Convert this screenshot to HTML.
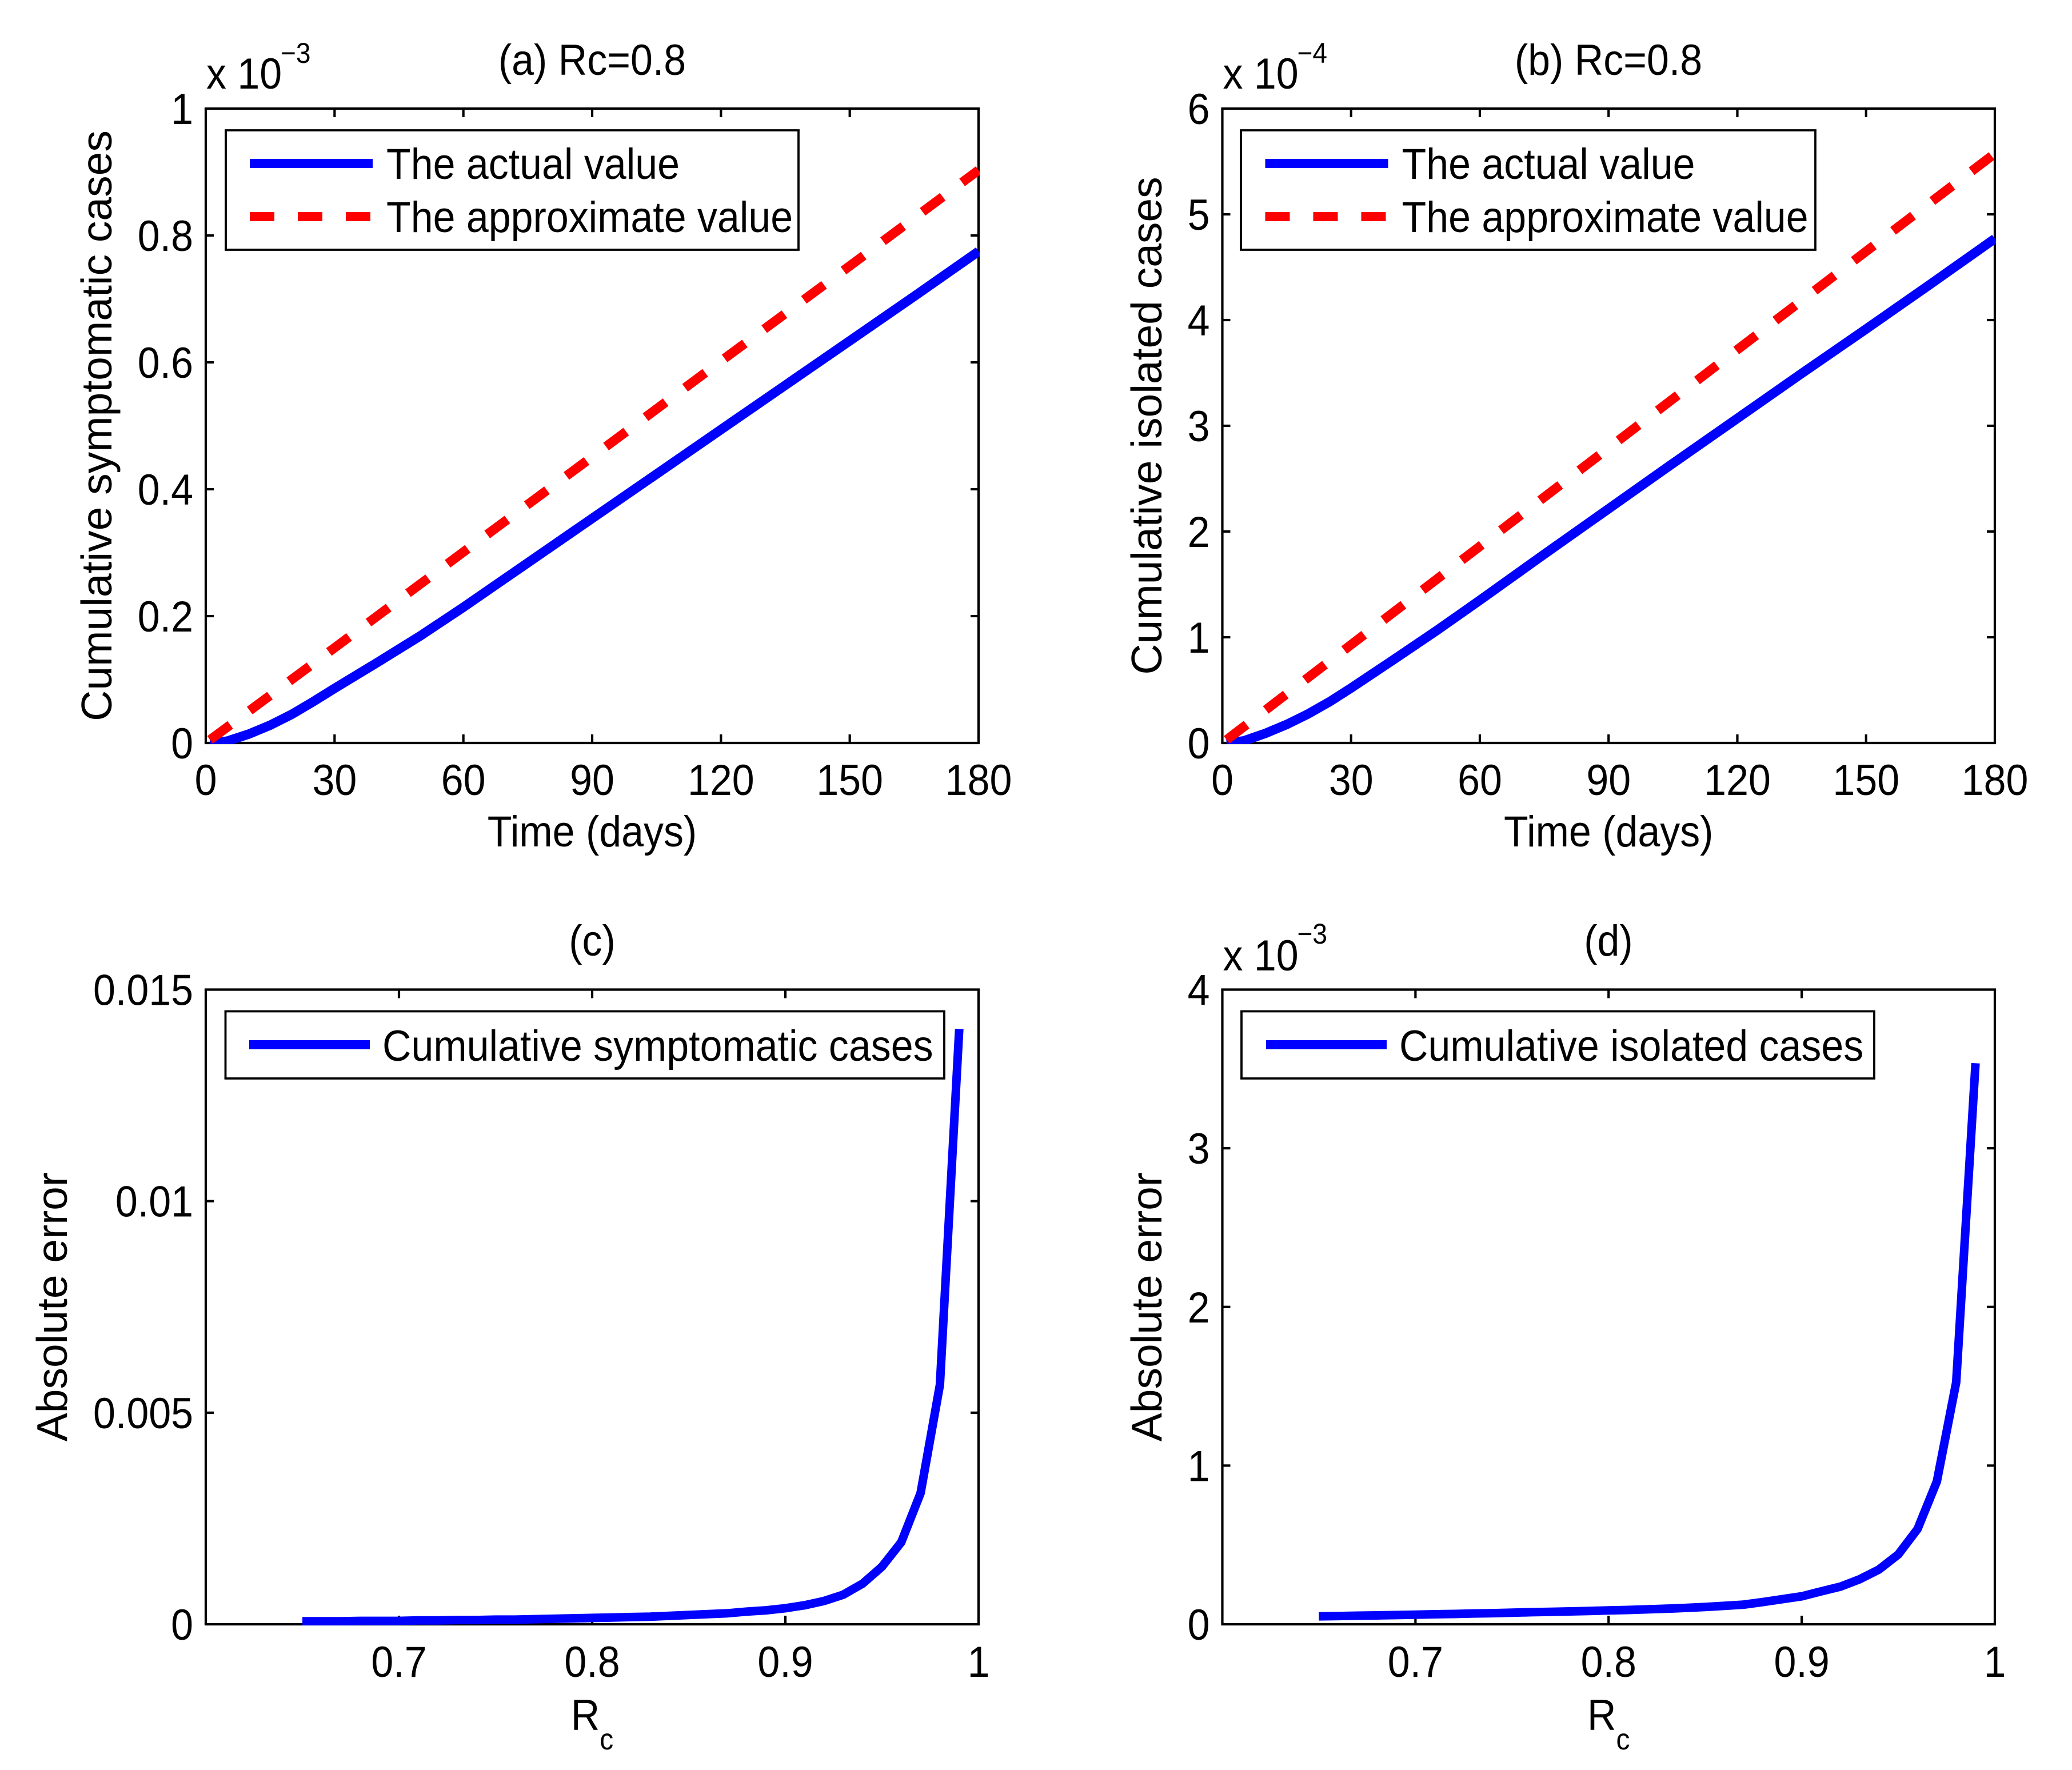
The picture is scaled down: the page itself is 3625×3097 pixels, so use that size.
<!DOCTYPE html>
<html lang="en">
<head>
<meta charset="utf-8">
<title>Cumulative cases and absolute error</title>
<style>
html,body{margin:0;padding:0;background:#fff;}
svg{display:block;}
text{font-family:"Liberation Sans",Arial,sans-serif;fill:#000;}
</style>
</head>
<body>
<svg id="figure" xmlns="http://www.w3.org/2000/svg" width="3625" height="3097" viewBox="0 0 3625 3097">
<rect x="0" y="0" width="3625" height="3097" fill="#fff"/>
</svg>
<script>
// ---- Data ----
const timeDays = [1,5,10,15,20,25,30,40,50,60,75,90,105,120,135,150,165,180];
const approxDays = [1,30,60,90,120,150,180];
const symptomaticActual = [0,0.003,0.014,0.028,0.045,0.065,0.086,0.127,0.169,0.214,0.284,0.354,0.424,0.494,0.564,0.634,0.704,0.775];
const symptomaticApprox = [0.005,0.150,0.301,0.451,0.602,0.752,0.903];
const isolatedActual = [0,0.02,0.09,0.175,0.275,0.39,0.52,0.79,1.065,1.35,1.785,2.215,2.645,3.07,3.495,3.915,4.34,4.77];
const isolatedApprox = [0.03,0.93,1.86,2.79,3.72,4.65,5.575];
const rcValues = [0.65,0.66,0.67,0.68,0.69,0.70,0.71,0.72,0.73,0.74,0.75,0.76,0.77,0.78,0.79,0.80,0.81,0.82,0.83,0.84,0.85,0.86,0.87,0.88,0.89,0.90,0.91,0.92,0.93,0.94,0.95,0.96,0.97,0.98,0.99];
const errorSymptomatic = [0.00007,0.00007,0.00007,0.00008,0.00008,0.00008,0.00009,0.00009,0.00010,0.00010,0.00011,0.00011,0.00012,0.00013,0.00014,0.00015,0.00016,0.00017,0.00018,0.00020,0.00022,0.00024,0.00026,0.00030,0.00033,0.00038,0.00045,0.00055,0.00070,0.00096,0.00136,0.00194,0.00310,0.00566,0.01407];
const errorIsolated = [0.050,0.052,0.054,0.056,0.058,0.060,0.063,0.065,0.068,0.070,0.073,0.076,0.078,0.081,0.084,0.087,0.090,0.094,0.098,0.103,0.109,0.116,0.124,0.140,0.158,0.176,0.207,0.237,0.284,0.345,0.440,0.600,0.900,1.525,3.536];
const timeTicks = [0,30,60,90,120,150,180];
const rcTicks = [0.7,0.8,0.9,1];
const symptomaticTicks = [0,0.2,0.4,0.6,0.8,1];
const symptomaticTickLabels = ["0","0.2","0.4","0.6","0.8","1"];
const isolatedTicks = [0,1,2,3,4,5,6];
const isolatedTickLabels = ["0","1","2","3","4","5","6"];
const errorTicks = [0,0.005,0.01,0.015];
const errorTickLabels = ["0","0.005","0.01","0.015"];
const dTicks = [0,1,2,3,4];
const dTickLabels = ["0","1","2","3","4"];
const legendA = ["The actual value","The approximate value"];
const legendB = ["The actual value","The approximate value"];
const legendC = ["Cumulative symptomatic cases"];
const legendD = ["Cumulative isolated cases"];

// ---- Drawing ----
const NS = "http://www.w3.org/2000/svg";
const svg = document.getElementById("figure");
const FONT = 76, SX = 0.92;

function make(parent, tag, attrs) {
  const el = document.createElementNS(NS, tag);
  for (const k in attrs) el.setAttribute(k, attrs[k]);
  parent.appendChild(el);
  return el;
}
function hText(parent, str, x, y, anchor, size, name) {
  const el = make(parent, "text", {
    transform: "translate(" + x + "," + y + ") scale(" + SX + ",1)",
    "text-anchor": anchor, "font-size": size
  });
  el.textContent = str;
  
  
  return el;
}
function vText(parent, str, x, y, name) {
  const el = make(parent, "text", {
    transform: "translate(" + x + "," + y + ") rotate(-90)",
    "text-anchor": "middle", "font-size": 75
  });
  el.textContent = str;
  
  
  return el;
}
function seg(parent, x1, y1, x2, y2, w, name) {
  const el = make(parent, "line", {x1:x1, y1:y1, x2:x2, y2:y2, stroke:"#000", "stroke-width":w});
  
  
  return el;
}

const AW = 4.2, LW = 3.8;

function drawPanel(p) {
  const g = make(svg, "g", {});
  
  
  const L = p.box[0], R = p.box[1], T = p.box[2], B = p.box[3];
  const sx = v => L + (v - p.xDomain[0]) / (p.xDomain[1] - p.xDomain[0]) * (R - L);
  const sy = v => B - (v - p.yDomain[0]) / (p.yDomain[1] - p.yDomain[0]) * (B - T);

  const bg = make(g, "rect", {x:L, y:T, width:R-L, height:B-T, fill:"#fff", stroke:"none"});
  
  

  const clip = make(g, "clipPath", {id: p.id + "-clip"});
  make(clip, "rect", {x:L-2, y:T-2, width:R-L+4, height:B-T+4});

  // frame
  seg(g, L-AW/2, T, R+AW/2, T, AW, p.id + '-axis-top');
  seg(g, L-AW/2, B, R+AW/2, B, AW, p.id + '-axis-bottom');
  seg(g, L, T, L, B, AW, p.id + '-axis-left');
  seg(g, R, T, R, B, AW, p.id + '-axis-right');

  // x ticks + labels
  p.xTicks.forEach(function (t) {
    const x = sx(t);
    if (x > L + 1 && x < R - 1) {
      seg(g, x, B, x, B - 15, AW, p.id + '-x-tick-bottom');
      seg(g, x, T, x, T + 15, AW, p.id + '-x-tick-top');
    }
    hText(g, String(t), x, p.xLabelY, "middle", FONT, p.id + '-x-tick-label');
  });
  // y ticks + labels
  p.yTicks.forEach(function (t, i) {
    const y = sy(t);
    if (y > T + 1 && y < B - 1) {
      seg(g, L, y, L + 14, y, AW, p.id + '-y-tick-left');
      seg(g, R, y, R - 14, y, AW, p.id + '-y-tick-right');
    }
    hText(g, p.yLabels[i], L - 22, y + 27, "end", FONT, p.id + '-y-tick-label');
  });

  // series
  p.series.forEach(function (s) {
    const pts = s.xs.map((x, i) => sx(x).toFixed(1) + "," + sy(s.ys[i]).toFixed(1)).join(" ");
    const line = make(g, "polyline", {
      points: pts, fill: "none", stroke: s.color, "stroke-width": s.width,
      "stroke-linejoin": "miter", "stroke-linecap": "butt",
      "clip-path": "url(#" + p.id + "-clip)"
    });
    if (s.dash) line.setAttribute("stroke-dasharray", s.dash);
    
    
  });

  // legend
  const lg = make(g, "g", {});
  
  
  const lb = p.legendBox;
  const box = make(lg, "rect", {x:lb[0], y:lb[1], width:lb[2]-lb[0], height:lb[3]-lb[1], fill:"#fff", stroke:"none"});
  
  
  seg(lg, lb[0]-LW/2, lb[1], lb[2]+LW/2, lb[1], LW, p.id + '-legend-border-top');
  seg(lg, lb[0]-LW/2, lb[3], lb[2]+LW/2, lb[3], LW, p.id + '-legend-border-bottom');
  seg(lg, lb[0], lb[1], lb[0], lb[3], LW, p.id + '-legend-border-left');
  seg(lg, lb[2], lb[1], lb[2], lb[3], LW, p.id + '-legend-border-right');
  p.legend.forEach(function (label, i) {
    const e = p.legendEntries[i];
    const ln = make(lg, "line", {x1:e.x1, x2:e.x2, y1:e.y, y2:e.y, stroke:e.color, "stroke-width":16});
    if (e.dash) ln.setAttribute("stroke-dasharray", e.dash);
    
    
    hText(lg, label, e.tx, e.ty, "start", FONT, p.id + '-legend-label');
  });

  // title, axis labels
  hText(g, p.title, p.titleX, p.titleY, "middle", FONT, p.id + '-title');
  vText(g, p.yTitle, p.yTitleX, (T + B) / 2, p.id + '-y-axis-title');
  if (p.xTitleIsRc) {
    const t = hText(g, "R", (L + R) / 2, p.xTitleY, "middle", FONT, p.id + '-x-axis-title');
    const sub = make(t, "tspan", {dy: 34, "font-size": 52});
    sub.textContent = "c";
  } else {
    hText(g, "Time (days)", (L + R) / 2, p.xTitleY, "middle", FONT, p.id + '-x-axis-title');
  }
  // exponent
  if (p.exponent) {
    hText(g, "x 10", L + 1, p.expBaseY, "start", FONT, p.id + '-exponent-base');
    hText(g, p.exponent, L + 131, p.expPowY, "start", 50, p.id + '-exponent-power');
  }
}

const DX = 1778.5;
const LEFT = 360, RIGHT = 1712, TOP1 = 190, BOT1 = 1300, TOP2 = 1731.5, BOT2 = 2842;
const LEFT2 = LEFT + DX, RIGHT2 = 3490;

function twoEntry(dx) {
  return [
    {x1:437+dx, x2:652+dx, y:286, color:"#00f", tx:676+dx, ty:313},
    {x1:437+dx, x2:652+dx, y:379, color:"#f00", dash:"43 41", tx:676+dx, ty:406}
  ];
}
function oneEntry(dx) {
  return [{x1:436+dx, x2:647+dx, y:1828, color:"#00f", tx:669+dx, ty:1856}];
}

drawPanel({
  id:"a", box:[LEFT,RIGHT,TOP1,BOT1], xDomain:[0,180], yDomain:[0,1],
  xTicks:timeTicks, yTicks:symptomaticTicks, yLabels:symptomaticTickLabels,
  xLabelY:1391, xTitleY:1481, title:"(a) Rc=0.8", titleX:1036, titleY:131,
  yTitle:"Cumulative symptomatic cases", yTitleX:195, exponent:"\u22123", expBaseY:155, expPowY:110,
  series:[
    {name:"actual-value-line-a", xs:timeDays, ys:symptomaticActual, color:"#00f", width:16.5},
    {name:"approximate-value-line-a", xs:approxDays, ys:symptomaticApprox, color:"#f00", dash:"44 42.2", width:16.5}
  ],
  legend:legendA, legendBox:[395,228,1397,437], legendEntries:twoEntry(0)
});
drawPanel({
  id:"b", box:[LEFT2,RIGHT2,TOP1,BOT1], xDomain:[0,180], yDomain:[0,6],
  xTicks:timeTicks, yTicks:isolatedTicks, yLabels:isolatedTickLabels,
  xLabelY:1391, xTitleY:1481, title:"(b) Rc=0.8", titleX:2814, titleY:131,
  yTitle:"Cumulative isolated cases", yTitleX:2032, exponent:"\u22124", expBaseY:155, expPowY:110,
  series:[
    {name:"actual-value-line-b", xs:timeDays, ys:isolatedActual, color:"#00f", width:16.5},
    {name:"approximate-value-line-b", xs:approxDays, ys:isolatedApprox, color:"#f00", dash:"44 42.3", width:16.5}
  ],
  legend:legendB, legendBox:[2171,228,3176,437], legendEntries:twoEntry(1776.5)
});
drawPanel({
  id:"c", box:[LEFT,RIGHT,TOP2,BOT2], xDomain:[0.6,1], yDomain:[0,0.015],
  xTicks:rcTicks, yTicks:errorTicks, yLabels:errorTickLabels,
  xLabelY:2934, xTitleY:3027, xTitleIsRc:true, title:"(c)", titleX:1036, titleY:1672,
  yTitle:"Absolute error", yTitleX:117,
  series:[{name:"symptomatic-error-line", xs:rcValues, ys:errorSymptomatic, color:"#00f", width:15}],
  legend:legendC, legendBox:[394.5,1769.5,1652,1887], legendEntries:oneEntry(0)
});
drawPanel({
  id:"d", box:[LEFT2,RIGHT2,TOP2,BOT2], xDomain:[0.6,1], yDomain:[0,4],
  xTicks:rcTicks, yTicks:dTicks, yLabels:dTickLabels,
  xLabelY:2934, xTitleY:3027, xTitleIsRc:true, title:"(d)", titleX:2814, titleY:1672,
  yTitle:"Absolute error", yTitleX:2032, exponent:"\u22123", expBaseY:1698, expPowY:1651,
  series:[{name:"isolated-error-line", xs:rcValues, ys:errorIsolated, color:"#00f", width:15}],
  legend:legendD, legendBox:[2172,1769.5,3279,1887], legendEntries:oneEntry(1779)
});
</script>
</body>
</html>
